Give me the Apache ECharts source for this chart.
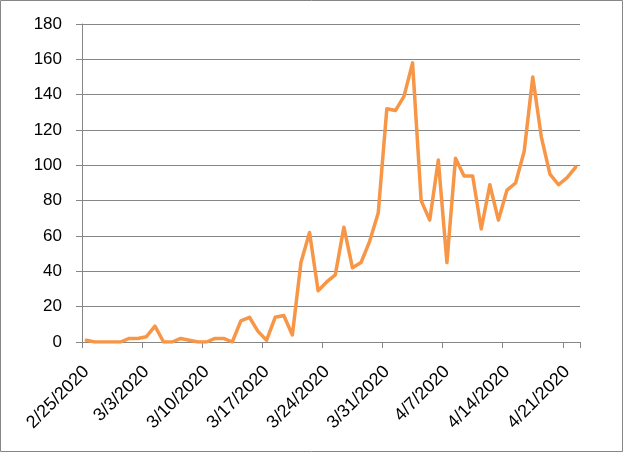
<!DOCTYPE html>
<html>
<head>
<meta charset="utf-8">
<script src="https://cdn.jsdelivr.net/npm/echarts@6/dist/echarts.min.js"></script>
<style>
html,body{margin:0;padding:0;background:#fff;}
#c{width:623px;height:452px;}
</style>
</head>
<body>
<div id="c"></div>
<script>
// Daily dates 2/25/2020 .. 4/22/2020
const startDate = [2020, 2, 25];
const dayCount = 58;
const values = [
  1, 0, 0, 0, 0, 2, 2, 3, 9, 0,
  0, 2, 1, 0, 0, 2, 2, 0, 12, 14,
  6, 1, 14, 15, 4, 45, 62, 29, 34, 38,
  65, 42, 45, 57, 73, 132, 131, 139, 158, 80,
  69, 103, 45, 104, 94, 94, 64, 89, 69, 86,
  90, 108, 150, 116, 95, 89, 93, 99
];
const yTicks = [0, 20, 40, 60, 80, 100, 120, 140, 160, 180];

const categories = [];
for (let i = 0; i < dayCount; i++) {
  const d = new Date(startDate[0], startDate[1] - 1, startDate[2] + i);
  categories.push((d.getMonth() + 1) + '/' + d.getDate() + '/' + d.getFullYear());
}

const chart = echarts.init(document.getElementById('c'), null, {renderer: 'canvas'});
const gray = '#868686';
chart.setOption({
  animation: false,
  backgroundColor: '#fff',
  textStyle: {fontFamily: 'Liberation Sans'},
  grid: {left: 82, top: 24, right: 43, bottom: 110, containLabel: false},
  xAxis: {
    type: 'category',
    data: categories,
    boundaryGap: true,
    axisLine: {show: true, lineStyle: {color: gray, width: 1}},
    axisTick: {show: true, interval: 6, length: 6, lineStyle: {color: gray}},
    axisLabel: {interval: 6, rotate: 45, margin: 27, fontSize: 18, color: '#000', fontFamily: 'Liberation Sans'},
    splitLine: {show: false}
  },
  yAxis: {
    type: 'value',
    min: yTicks[0],
    max: yTicks[yTicks.length - 1],
    interval: yTicks[1] - yTicks[0],
    axisLine: {show: true, lineStyle: {color: gray, width: 1}},
    axisTick: {show: true, length: 6, lineStyle: {color: gray}},
    axisLabel: {margin: 20, fontSize: 17, color: '#000', fontFamily: 'Liberation Sans'},
    splitLine: {show: true, lineStyle: {color: gray, width: 1}}
  },
  series: [{
    type: 'line',
    data: values,
    showSymbol: false,
    symbol: 'none',
    smooth: false,
    lineStyle: {color: '#F79646', width: 3.5, join: 'round', cap: 'round'},
    itemStyle: {color: '#F79646'}
  }],
  graphic: [{
    type: 'rect',
    shape: {x: 0.5, y: 0.5, width: 622, height: 451},
    style: {fill: 'none', stroke: gray, lineWidth: 1},
    silent: true
  }]
});
</script>
</body>
</html>
